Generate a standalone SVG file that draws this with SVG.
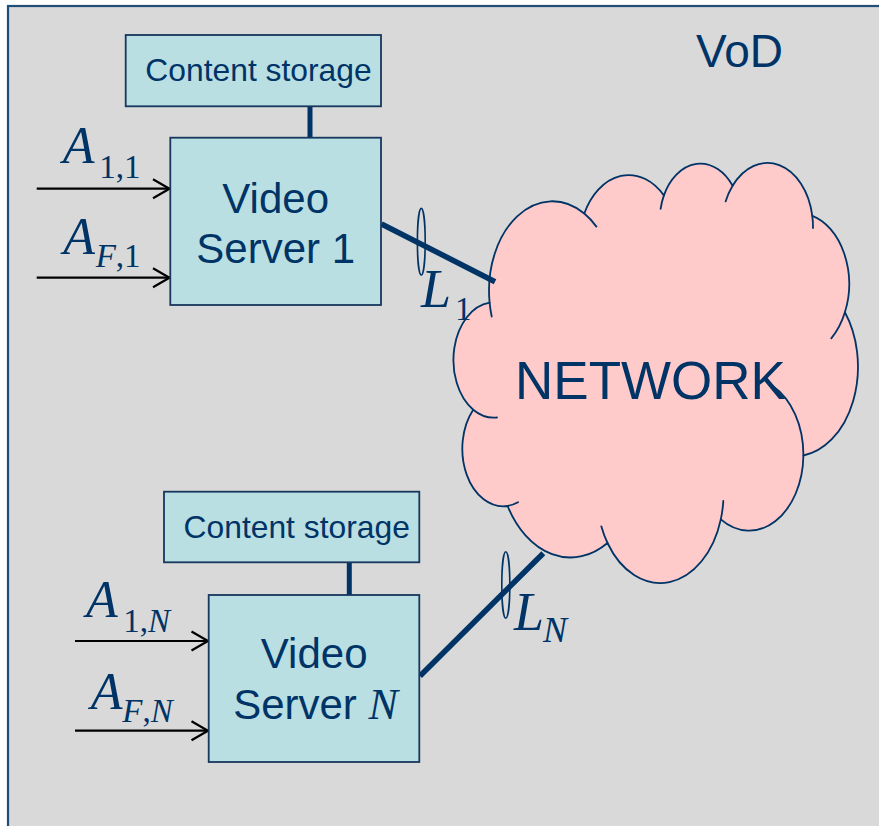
<svg xmlns="http://www.w3.org/2000/svg" width="879" height="826" viewBox="0 0 879 826">
  <style>
    .box { fill: #B9DFE3; stroke: #17375E; stroke-width: 1.8; }
    .sans { font-family: "Liberation Sans", Arial, sans-serif; fill: #003366; }
    .math { font-family: "Liberation Serif", "Times New Roman", serif; fill: #003366; }
    .it { font-style: italic; }
    .link { stroke: #003366; stroke-width: 5.5; fill: none; }
    .stem { stroke: #003366; stroke-width: 5; fill: none; }
    .flow { stroke: #000000; stroke-width: 2.2; fill: none; marker-end: url(#chevron); }
    .bundle { fill: none; stroke: #003366; stroke-width: 1.6; }
    .cloud-edge { fill: none; stroke: #003366; stroke-width: 1.8; stroke-linecap: round; }
  </style>
  <defs>
    <marker id="chevron" markerUnits="userSpaceOnUse" markerWidth="22" markerHeight="24" viewBox="0 0 22 24" refX="18" refY="11" orient="auto">
      <path d="M1.5,1.5 L18,11 L1.5,20.5" fill="none" stroke="#000000" stroke-width="2.2"/>
    </marker>
  </defs>

  <!-- page background and system frame -->
  <rect x="0" y="0" width="879" height="826" fill="#FFFFFF"/>
  <rect id="frame" x="8" y="6" width="890" height="840" fill="#D9D9D9" stroke="#1F4E79" stroke-width="2.2"/>
  <text class="sans" x="696" y="66.7" font-size="46">VoD</text>

  <!-- network cloud -->
  <g id="network">
    <path fill="#FFCACA" stroke="#003366" stroke-width="1.8" stroke-linejoin="round"
      d="M489.6,302.7
         A63.3,89.35 0 0 1 584.3,213.5
         A50,70.65 0 0 1 663.9,195.4
         A40.92,57.8 0 0 1 732.6,185.8
         A45.53,64.12 0 0 1 812.3,215.8
         A50,70.71 0 0 1 844.9,312.3
         A63.52,89.64 0 0 1 803.4,455.5
         A54.23,76.49 0 0 1 720.8,519.4
         A63.3,89.59 0 0 1 607.5,543
         A72.38,102.5 0 0 1 507.6,506
         A40.88,57.54 0 0 1 473.2,409.7
         A40.73,57.8 0 0 1 489.6,302.7 Z"/>
    <path class="cloud-edge"
      d="M497,417.5 A40.73,57.8 0 0 1 473.2,409.7
         M518,502.3 A40.88,57.54 0 0 1 507.6,506
         M607.5,543 A63.3,89.59 0 0 1 601.3,526.3
         M723.3,500.9 A63.3,89.59 0 0 1 720.8,519.4
         M773,386.2 A54.23,76.49 0 0 1 803.4,455.5
         M844.9,312.3 A50,70.71 0 0 1 831.3,338.3
         M812.3,215.8 A45.53,64.12 0 0 1 813,228
         M725.6,201.4 A45.53,64.12 0 0 1 732.6,185.8
         M660.6,208.9 A40.92,57.8 0 0 1 663.9,195.4
         M584.3,213.5 A63.3,89.35 0 0 1 596.4,226.6
         M491.7,316.5 A63.3,89.35 0 0 1 489.6,302.7"/>
    <text class="sans" x="650.5" y="399.3" font-size="53" text-anchor="middle">NETWORK</text>
  </g>

  <!-- connectors -->
  <g id="connectors">
    <line class="stem" x1="310" y1="106" x2="310" y2="138"/>
    <line class="stem" x1="349.3" y1="562" x2="349.3" y2="595.5"/>
    <line class="link" x1="381.5" y1="224" x2="495" y2="281.7"/>
    <line class="link" x1="420" y1="676" x2="543.3" y2="553.3"/>
    <ellipse class="bundle" cx="421.3" cy="241.7" rx="3.9" ry="33.3"/>
    <ellipse class="bundle" cx="505.8" cy="585" rx="4" ry="33.3"/>
    <line class="flow" x1="36.7" y1="188.7" x2="169.5" y2="188.7"/>
    <line class="flow" x1="36.7" y1="277.7" x2="169.5" y2="277.7"/>
    <line class="flow" x1="75" y1="641" x2="208" y2="641"/>
    <line class="flow" x1="75" y1="730.7" x2="208" y2="730.7"/>
  </g>

  <!-- server 1 and its storage -->
  <g id="storage-1">
    <rect class="box" x="125.7" y="35" width="255.3" height="71.3"/>
    <text class="sans" x="258.5" y="81" font-size="31.8" text-anchor="middle">Content storage</text>
  </g>
  <g id="server-1">
    <rect class="box" x="170.3" y="137.7" width="210.7" height="167.3"/>
    <text class="sans" x="275.7" y="213.3" font-size="42" text-anchor="middle">Video</text>
    <text class="sans" x="275.7" y="263.3" font-size="42" text-anchor="middle">Server 1</text>
  </g>

  <!-- server N and its storage -->
  <g id="storage-n">
    <rect class="box" x="164" y="491.7" width="255.3" height="70.6"/>
    <text class="sans" x="296.7" y="538.3" font-size="31.8" text-anchor="middle">Content storage</text>
  </g>
  <g id="server-n">
    <rect class="box" x="208.7" y="595" width="210.6" height="167"/>
    <text class="sans" x="314.2" y="668.3" font-size="42" text-anchor="middle">Video</text>
    <text x="315.5" y="719.3" font-size="42" text-anchor="middle"><tspan class="sans">Server </tspan><tspan class="math it" font-size="44">N</tspan></text>
  </g>

  <!-- arrival and link labels (L with its subscript kept in one text run) -->
  <g id="labels">
    <text class="math it" x="62.7" y="163.3" font-size="52">A</text>
    <text class="math" x="99.3" y="177.7" font-size="33">1,1</text>
    <text class="math it" x="63.3" y="254.3" font-size="52">A</text>
    <text class="math" x="95.7" y="266.7" font-size="33"><tspan class="it">F</tspan>,1</text>
    <text class="math it" x="86" y="617.3" font-size="52">A</text>
    <text class="math" x="123.3" y="631.7" font-size="33">1,<tspan class="it">N</tspan></text>
    <text class="math it" x="90.7" y="709.3" font-size="52">A</text>
    <text class="math" x="122.3" y="721.7" font-size="33"><tspan class="it">F</tspan>,<tspan class="it">N</tspan></text>
    <text class="math" x="421" y="307.3" font-size="54"><tspan class="it">L</tspan><tspan x="455" y="320" font-size="33">1</tspan></text>
    <text class="math it" x="514" y="630" font-size="54">L<tspan x="543" y="641.7" font-size="36">N</tspan></text>
  </g>
</svg>
